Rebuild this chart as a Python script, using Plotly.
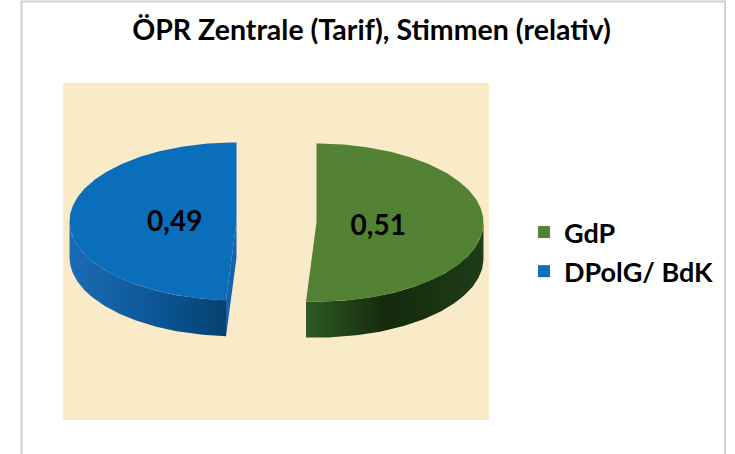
import numpy as np
import plotly.graph_objects as go

# ---- data ----
labels = ["GdP", "DPolG/ BdK"]
values = [0.51, 0.49]
title_text = "ÖPR Zentrale (Tarif), Stimmen (relativ)"

# ---- styles ----
top_colors = ["#548235", "#0B6EBA"]
legend_colors = ["#548235", "#0F6FC6"]
side_scales = [
    [[0, "#2F5A24"], [0.45, "#142B0D"], [1, "#1E3D17"]],
    [[0, "#1C6BB3"], [0.6, "#0B5493"], [1, "#05416F"]],
]
radial_colors = ["#1E3D17", "#1463AC"]
FONT = "Lato, Open Sans, sans-serif"

# geometry of the 3D pie (pixel space of the plot area)
X0, X1, Y0, Y1 = 63, 489, 83, 420
CX, CY = 276.5, 222
RX, RY = 167, 79
DEPTH = 36
PULL = 40
LABEL_K = 0.37
LABEL_DY = 4


def rim(cx, cy, a):
    return cx + RX * np.sin(a), cy - RY * np.cos(a)


fig = go.Figure()

total = sum(values)
start = 0.0
for i, (lab, v) in enumerate(zip(labels, values)):
    a0 = start
    a1 = start + 2 * np.pi * v / total
    start = a1
    mid = (a0 + a1) / 2
    cx = CX + PULL * np.sin(mid)
    cy = CY - PULL * np.cos(mid) * RY / RX

    # radial faces that face the viewer
    for a, front in ((a0, -np.sin(a0)), (a1, np.sin(a1))):
        if front > 1e-3:
            rx_, ry_ = rim(cx, cy, a)
            fig.add_trace(go.Scatter(
                x=[cx, rx_, rx_, cx, cx], y=[cy, ry_, ry_ + DEPTH, cy + DEPTH, cy],
                mode="lines", fill="toself", fillcolor=radial_colors[i],
                line=dict(width=0), hoverinfo="skip", showlegend=False))

    # outer side (front half only)
    lo, hi = max(a0, np.pi / 2), min(a1, 3 * np.pi / 2)
    if hi > lo:
        t = np.linspace(lo, hi, 120)
        xs, ys = rim(cx, cy, t)
        px = np.concatenate([xs, xs[::-1], xs[:1]])
        py = np.concatenate([ys, (ys + DEPTH)[::-1], ys[:1]])
        fig.add_trace(go.Scatter(
            x=px, y=py, mode="lines", fill="toself",
            fillgradient=dict(type="horizontal", colorscale=side_scales[i]),
            line=dict(width=0), hoverinfo="skip", showlegend=False))

    # top face
    t = np.linspace(a0, a1, 200)
    xs, ys = rim(cx, cy, t)
    fig.add_trace(go.Scatter(
        x=np.concatenate([[cx], xs, [cx]]), y=np.concatenate([[cy], ys, [cy]]),
        mode="lines", fill="toself", fillcolor=top_colors[i],
        line=dict(width=0), hoverinfo="skip", showlegend=False))

    # value label
    lx = cx + LABEL_K * RX * np.sin(mid)
    ly = cy - LABEL_K * RY * np.cos(mid) + LABEL_DY
    fig.add_trace(go.Scatter(
        x=[lx], y=[ly], mode="text",
        text=[f"{v:.2f}".replace(".", ",")],
        textfont=dict(family=FONT, size=28, color="#000000", weight="bold"),
        hoverinfo="skip", showlegend=False))

# legend entries
for i, (lab, col) in enumerate(zip(labels, legend_colors)):
    fig.add_trace(go.Scatter(
        x=[None], y=[None], mode="markers", name=lab, legendgroup=f"g{i}",
        marker=dict(symbol="square", size=18, color=col)))

W, H = 735, 454
pw, ph = X1 - X0, Y1 - Y0


def paper_x(p):
    return (p - X0) / pw


def paper_y(p):
    return (Y1 - p) / ph


fig.update_layout(
    width=W, height=H,
    margin=dict(l=X0, r=W - X1, t=Y0, b=H - Y1, pad=0),
    paper_bgcolor="white",
    plot_bgcolor="#FAEBC8",
    xaxis=dict(range=[X0, X1], visible=False, fixedrange=True),
    yaxis=dict(range=[Y1, Y0], visible=False, fixedrange=True),
    title=dict(
        text=title_text, xref="container", yref="container",
        x=371.5 / W, y=1 - 30 / H, xanchor="center", yanchor="middle",
        font=dict(family=FONT, size=28.5, color="#000000", weight="bold")),
    showlegend=True,
    legend=dict(
        x=paper_x(524), y=paper_y(208), xanchor="left", yanchor="top",
        font=dict(family=FONT, size=27, color="#000000", weight="bold"),
        bgcolor="rgba(0,0,0,0)", itemsizing="constant", tracegroupgap=1),
    shapes=[dict(
        type="rect", xref="paper", yref="paper",
        x0=paper_x(21.5), x1=paper_x(725), y0=paper_y(470), y1=paper_y(1.5),
        line=dict(color="#D0D0D0", width=2), fillcolor="rgba(0,0,0,0)",
        layer="below")],
)

fig.write_html(
    "out.html",
    config={"displayModeBar": False},
    post_script="document.body.style.margin='0';document.body.style.overflow='hidden';",
)
